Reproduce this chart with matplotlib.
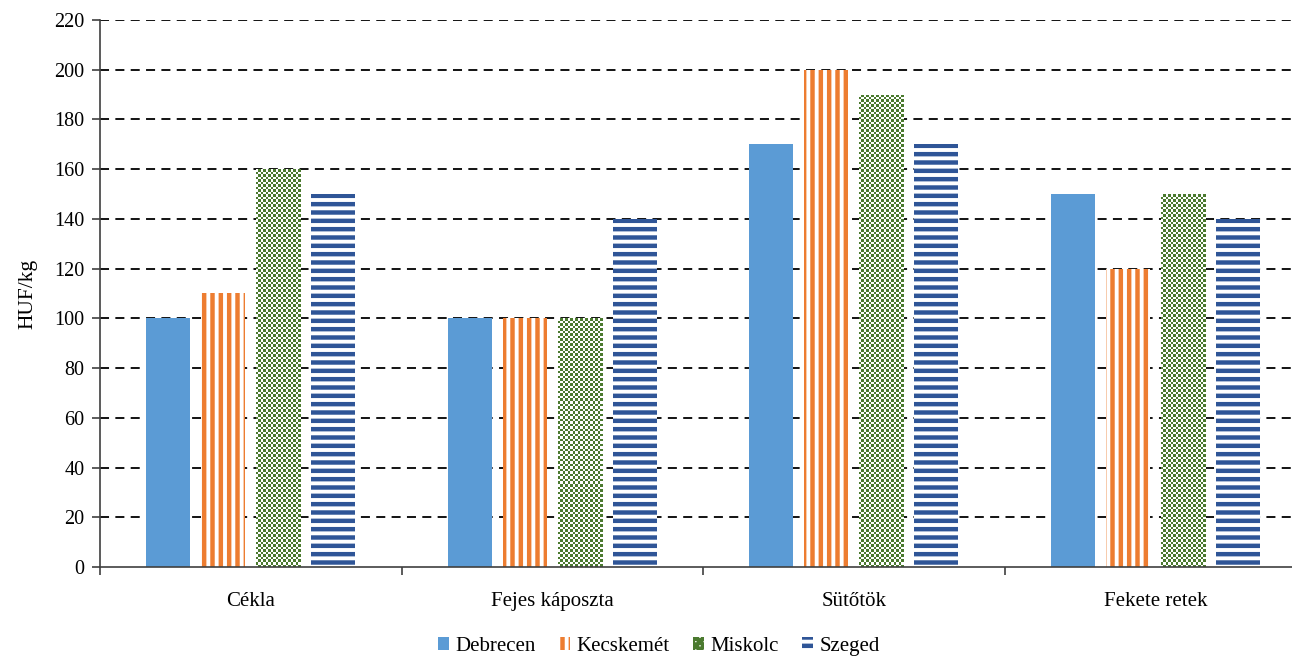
import matplotlib
matplotlib.use("Agg")
import matplotlib.pyplot as plt
from matplotlib.colors import ListedColormap
from matplotlib.patches import Patch
import numpy as np

categories = ["Cékla", "Fejes káposzta", "Sütőtök", "Fekete retek"]
cities = ["Debrecen", "Kecskemét", "Miskolc", "Szeged"]
debrecen = [100, 100, 170, 150]
kecskemet = [110, 100, 200, 120]
miskolc = [160, 100, 190, 150]
szeged = [150, 140, 170, 140]
yticks = list(range(0, 221, 20))

plt.rcParams["font.family"] = ["Liberation Serif", "DejaVu Serif"]
plt.rcParams["hatch.linewidth"] = 3.2

fig = plt.figure(figsize=(12.92, 6.57), dpi=100)
ax = fig.add_axes([0.0774, 0.137, 0.9335, 0.8326])
ax.set_xlim(-0.5, len(categories) - 0.5)
ax.set_ylim(0, 220)

x = np.arange(len(categories))
width = 0.146
step = 0.182
green = "#4B7A2F"
styles = [
    dict(color="#5B9BD5"),
    dict(facecolor="white", edgecolor="#ED7D31", hatch="||", linewidth=0),
    dict(facecolor="white", edgecolor="none", linewidth=0),
    dict(facecolor="white", edgecolor="#2F5597", hatch="--", linewidth=0),
]
series = [debrecen, kecskemet, miskolc, szeged]
containers = []
for i, (vals, name, st) in enumerate(zip(series, cities, styles)):
    containers.append(ax.bar(x + (i - 1.5) * step, vals, width, label=name,
                             zorder=2, **st))

# checkerboard fill for Miskolc, clipped to each bar
px_x = ax.transData.transform((1, 0))[0] - ax.transData.transform((0, 0))[0]
px_y = ax.transData.transform((0, 1))[1] - ax.transData.transform((0, 0))[1]
cell = 2.5
cmap = ListedColormap(["white", green])
for bar in containers[2]:
    bx, bw, bh = bar.get_x(), bar.get_width(), bar.get_height()
    nx = max(1, int(round(bw * px_x / cell)))
    ny = max(1, int(round(bh * px_y / cell)))
    board = (np.add.outer(np.arange(ny), np.arange(nx)) % 2).astype(float)
    im = ax.imshow(board, cmap=cmap, extent=(bx, bx + bw, 0, bh), origin="lower",
                   aspect="auto", interpolation="nearest", zorder=2.1)
    im.set_clip_path(bar)

ax.set_xlim(-0.5, len(categories) - 0.5)
ax.set_ylim(0, 220)
ax.set_yticks(yticks)
ax.set_xticks(x)
ax.set_xticklabels(categories)
ax.set_xticks(np.arange(-0.5, len(categories)), minor=True)
ax.tick_params(axis="x", which="major", length=0, pad=18, labelsize=15)
ax.tick_params(axis="x", which="minor", length=6, width=1.2, color="#404040")
ax.tick_params(axis="y", length=6, width=1.2, color="#404040", labelsize=14.5, pad=5)
ax.set_ylabel("HUF/kg", fontsize=15.5, labelpad=12)

for yv in yticks[1:]:
    ax.axhline(yv, color="black", linestyle=(0, (5, 3.5)), linewidth=1.3, zorder=0.5)
for s in ["top", "right"]:
    ax.spines[s].set_visible(False)
for s in ["left", "bottom"]:
    ax.spines[s].set_color("#404040")
    ax.spines[s].set_linewidth(1.2)

handles = [
    Patch(facecolor="#5B9BD5"),
    Patch(facecolor="white", edgecolor="#ED7D31", hatch="||", linewidth=0),
    Patch(facecolor="white", edgecolor=green, hatch="xxxx", linewidth=0),
    Patch(facecolor="white", edgecolor="#2F5597", hatch="--", linewidth=0),
]
fig.legend(handles, cities, loc="center", bbox_to_anchor=(0.51, 0.016), ncol=4,
           frameon=False, fontsize=15, handlelength=0.55, handleheight=0.55,
           handletextpad=0.3, columnspacing=1.1, borderpad=0)

fig.savefig("out.png", dpi=100)
